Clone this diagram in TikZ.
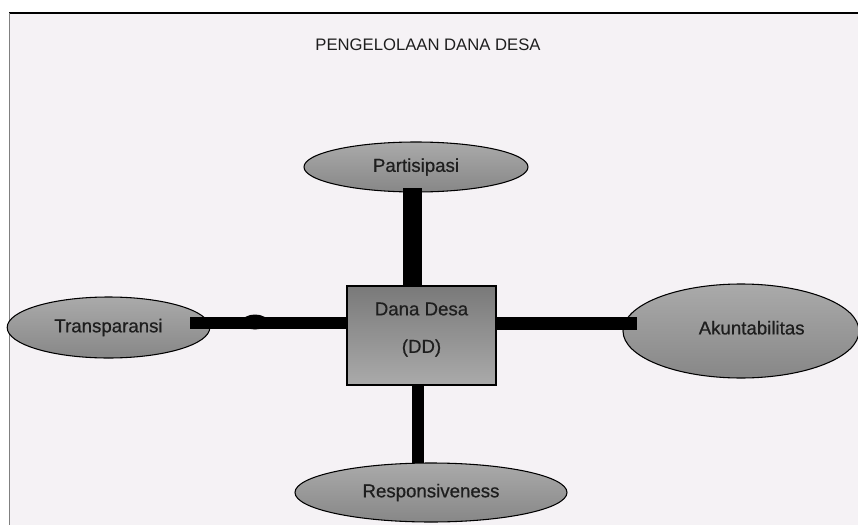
\documentclass[tikz,border=0pt]{standalone}
\usepackage{fontspec}
\setmainfont{Liberation Sans}
\newfontfamily\labelfont[FakeBold=0.6]{Liberation Sans}
\usetikzlibrary{shapes.geometric}

\definecolor{pagebg}{RGB}{245,242,245}
\definecolor{labeltext}{RGB}{30,30,30}
\definecolor{shapetop}{RGB}{170,170,170}
\definecolor{shapebot}{RGB}{135,135,135}

\tikzset{
  aspect/.style={ellipse, draw=black, line width=0.8pt, top color=shapetop, bottom color=shapebot,
    inner sep=0pt, text=labeltext, font=\labelfont\fontsize{14}{16}\selectfont},
  fundbox/.style={rectangle, draw=black, line width=0.8pt, top color=shapebot!90!black, bottom color=shapetop,
    minimum width=111.75pt, minimum height=74.25pt, inner sep=0pt},
  boxtext/.style={text=labeltext, font=\labelfont\fontsize{14}{16}\selectfont, inner sep=0pt},
  bar/.style={draw=black, line width=9.5pt},
}

\begin{document}
\begin{tikzpicture}[x=0.75pt,y=0.75pt,yscale=-1,xscale=1]
\useasboundingbox (0,0) rectangle (858,525);

%Shape: Page
\fill[white] (0,0) rectangle (858,525);
\fill[pagebg] (9,13) rectangle (858,525);
\draw[black, line width=1.9pt] (9,13) -- (858,13);
\draw[gray, line width=1.1pt] (9.5,13) -- (9.5,525);

% Text Node
\node (title) [text=labeltext, font=\fontsize{12.5}{15}\selectfont] at (428,45) {PENGELOLAAN DANA DESA};

%Shape: Ellipse
\node (partisipasi) [aspect, minimum width=168pt, minimum height=37.5pt] at (416,167) {Partisipasi};
%Shape: Ellipse
\node (transparansi) [aspect, minimum width=152pt, minimum height=45.75pt] at (108.5,327.5) {\raisebox{2pt}{Transparansi}\hspace{14pt}};
%Shape: Ellipse
\node (akuntabilitas) [aspect, minimum width=177pt, minimum height=70.5pt] at (741,331) {\hspace{16pt}\raisebox{5pt}{Akuntabilitas}};
%Shape: Ellipse
\node (responsiveness) [aspect, minimum width=204pt, minimum height=44.25pt] at (431,492.5) {Responsiveness};

%Shape: Rectangle
\node (dd) [fundbox] at (421.5,335.5) {};
% Text Node
\node (ddname) [boxtext] at (421.5,309) {Dana Desa};
% Text Node
\node (ddshort) [boxtext] at (421.5,348) {(DD)};

% bar ends
\coordinate (topbar) at (412.5,188);
\coordinate (leftbar) at (190,323);
\coordinate (rightbar) at (637,323.5);
\coordinate (bottombar) at (418,463);

%Straight Lines
\draw[bar, line width=14pt] (dd.north -| topbar) -- (topbar);
%Straight Lines
\draw[bar] (dd.west |- leftbar) -- (leftbar);
\fill[black] (255,322) ellipse (13 and 7.5);
%Straight Lines
\draw[bar] (dd.east |- rightbar) -- (rightbar);
%Straight Lines
\draw[bar] (dd.south -| bottombar) -- (bottombar);

\end{tikzpicture}
\end{document}
